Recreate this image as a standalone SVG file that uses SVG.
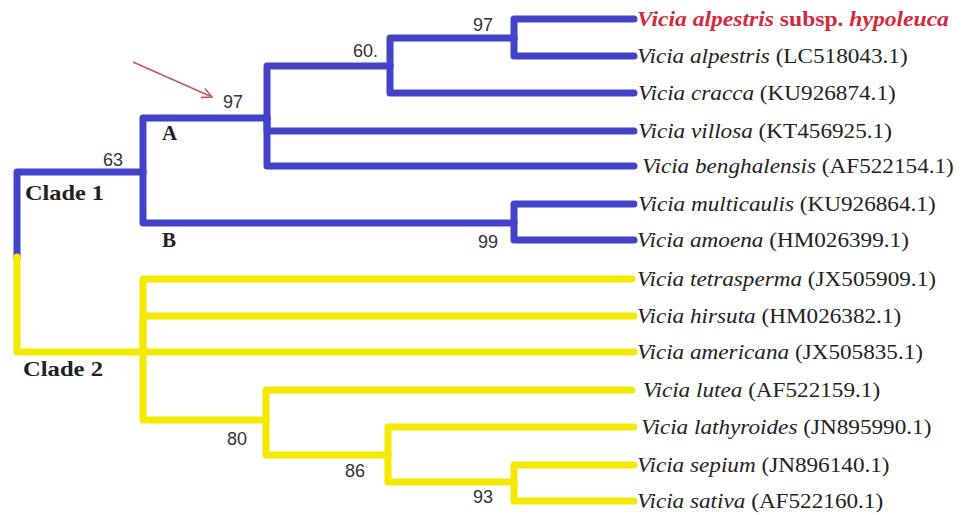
<svg xmlns="http://www.w3.org/2000/svg" width="964" height="515" viewBox="0 0 964 515">
<defs>
<style>
.b{fill:none;stroke:#4343c9;stroke-width:7;stroke-linecap:round;stroke-linejoin:round}
.y{fill:none;stroke:#f5e900;stroke-width:7;stroke-linecap:round;stroke-linejoin:round}
.leaf{font-family:"Liberation Serif","Times New Roman",serif;font-size:20px;fill:#222}
.leaf .i{font-style:italic}
.red{fill:#d42a3c;font-weight:bold}
.num{font-family:"Liberation Sans",Arial,sans-serif;font-size:18px;fill:#333}
.lab{font-family:"Liberation Serif","Times New Roman",serif;font-weight:bold;fill:#222}
</style>
<marker id="ah" viewBox="0 0 12 12" refX="11" refY="6" markerWidth="12" markerHeight="12" markerUnits="userSpaceOnUse" orient="auto">
<path d="M1,1 L11,6 L1,11" fill="none" stroke="#c05a5a" stroke-width="1.5"/>
</marker>
</defs>
<rect width="964" height="515" fill="#ffffff"/>
<g id="connectors">
<path class="b" d="M17,257 V172 H143"/>
<path class="y" d="M17,257 V352 H143"/>
<path class="b" d="M143,172 V118 H267"/>
<path class="b" d="M143,172 V223 H514"/>
<path class="b" d="M267,118 V66 H390"/>
<path class="b" d="M267,118 V131 H634"/>
<path class="b" d="M267,118 V166 H634"/>
<path class="b" d="M390,66 V38 H514"/>
<path class="b" d="M390,66 V93 H634"/>
<path class="b" d="M514,38 V19 H634"/>
<path class="b" d="M514,38 V56 H634"/>
<path class="b" d="M514,223 V204 H634"/>
<path class="b" d="M514,223 V240 H634"/>
<path class="y" d="M143,352 V279 H632"/>
<path class="y" d="M143,352 V316 H634"/>
<path class="y" d="M143,352 H634"/>
<path class="y" d="M143,352 V420 H266"/>
<path class="y" d="M266,420 V390 H632"/>
<path class="y" d="M266,420 V455 H388"/>
<path class="y" d="M388,455 V427 H634"/>
<path class="y" d="M388,455 V482 H514"/>
<path class="y" d="M514,482 V465 H634"/>
<path class="y" d="M514,482 V501 H634"/>
<path d="M133,62 L212,97" fill="none" stroke="#c05a5a" stroke-width="1.5" marker-end="url(#ah)"/>
</g>
<g id="clade-labels">
<text class="lab" x="25" y="200" font-size="22" textLength="79" lengthAdjust="spacingAndGlyphs">Clade 1</text>
<text class="lab" x="23" y="376" font-size="22" textLength="80" lengthAdjust="spacingAndGlyphs">Clade 2</text>
<text class="lab" x="162" y="140" font-size="21">A</text>
<text class="lab" x="162" y="247" font-size="21">B</text>
</g>
<g id="support">
<text class="num" x="473" y="31">97</text>
<text class="num" x="353" y="57">60.</text>
<text class="num" x="223" y="108">97</text>
<text class="num" x="103" y="166">63</text>
<text class="num" x="478" y="248">99</text>
<text class="num" x="227" y="445">80</text>
<text class="num" x="345" y="477">86</text>
<text class="num" x="473" y="503">93</text>
</g>
<g id="n-hypoleuca"><text class="leaf" transform="translate(637,26) scale(1.18,1)"><tspan class="i red">Vicia alpestris</tspan><tspan class="red"> subsp. </tspan><tspan class="i red">hypoleuca</tspan></text></g>
<g id="n-alpestris"><text class="leaf" transform="translate(637,63) scale(1.16,1)"><tspan class="i">Vicia alpestris</tspan> (LC518043.1)</text></g>
<g id="n-cracca"><text class="leaf" transform="translate(638,100) scale(1.16,1)"><tspan class="i">Vicia cracca</tspan> (KU926874.1)</text></g>
<g id="n-villosa"><text class="leaf" transform="translate(638,138) scale(1.16,1)"><tspan class="i">Vicia villosa</tspan> (KT456925.1)</text></g>
<g id="n-benghalensis"><text class="leaf" transform="translate(642,173) scale(1.16,1)"><tspan class="i">Vicia benghalensis</tspan> (AF522154.1)</text></g>
<g id="n-multicaulis"><text class="leaf" transform="translate(638,211) scale(1.16,1)"><tspan class="i">Vicia multicaulis</tspan> (KU926864.1)</text></g>
<g id="n-amoena"><text class="leaf" transform="translate(637,247) scale(1.16,1)"><tspan class="i">Vicia amoena</tspan> (HM026399.1)</text></g>
<g id="n-tetrasperma"><text class="leaf" transform="translate(637,286) scale(1.16,1)"><tspan class="i">Vicia tetrasperma</tspan> (JX505909.1)</text></g>
<g id="n-hirsuta"><text class="leaf" transform="translate(637,323) scale(1.16,1)"><tspan class="i">Vicia hirsuta</tspan> (HM026382.1)</text></g>
<g id="n-americana"><text class="leaf" transform="translate(637,359) scale(1.16,1)"><tspan class="i">Vicia americana</tspan> (JX505835.1)</text></g>
<g id="n-lutea"><text class="leaf" transform="translate(643,397) scale(1.16,1)"><tspan class="i">Vicia lutea</tspan> (AF522159.1)</text></g>
<g id="n-lathyroides"><text class="leaf" transform="translate(641,434) scale(1.16,1)"><tspan class="i">Vicia lathyroides</tspan> (JN895990.1)</text></g>
<g id="n-sepium"><text class="leaf" transform="translate(637,472) scale(1.16,1)"><tspan class="i">Vicia sepium</tspan> (JN896140.1)</text></g>
<g id="n-sativa"><text class="leaf" transform="translate(637,508) scale(1.16,1)"><tspan class="i">Vicia sativa</tspan> (AF522160.1)</text></g>
</svg>
